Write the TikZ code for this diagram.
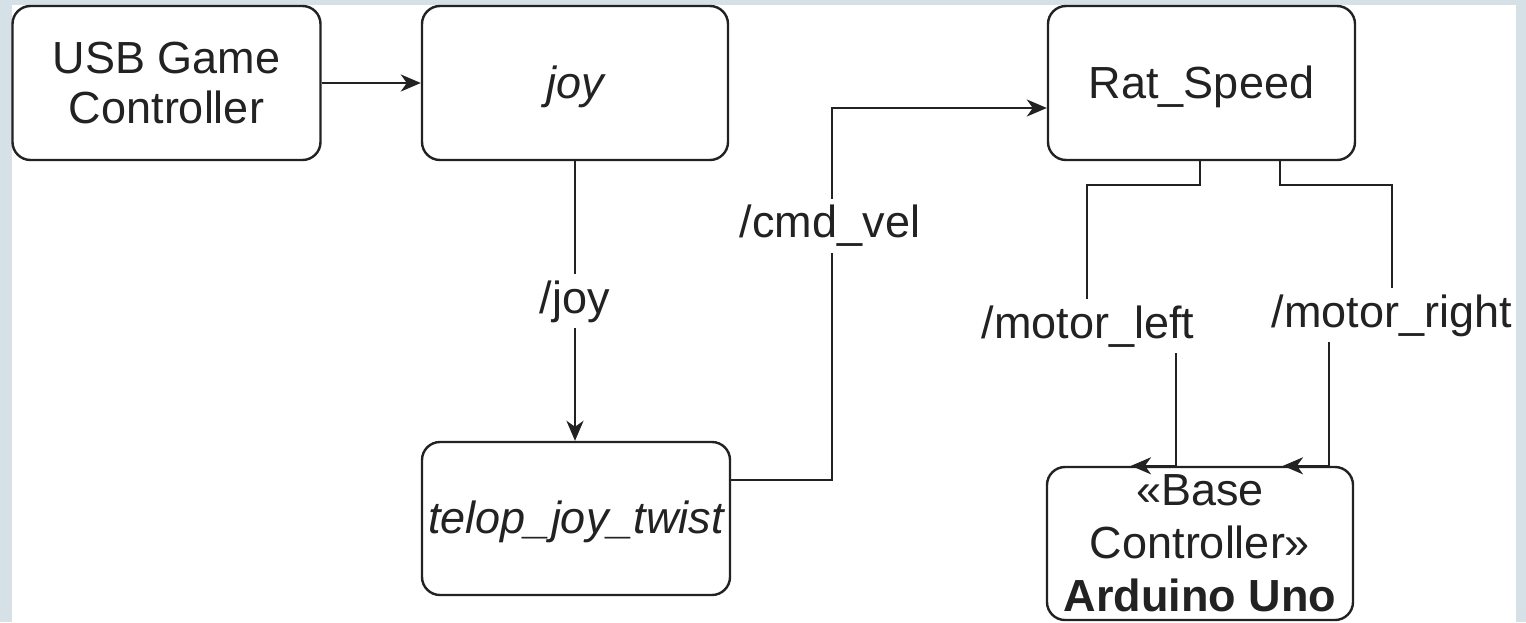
\documentclass[tikz,border=0pt]{standalone}
\usepackage{fontspec}
\setmainfont{Liberation Sans}
\usetikzlibrary{arrows.meta}
\definecolor{frame}{HTML}{D5E1E7}
\definecolor{ink}{HTML}{222222}
\begin{document}
\begin{tikzpicture}[x=1pt,y=-1pt,
  proc/.style={draw=ink, line width=2.4pt, rounded corners=18pt, fill=white,
    inner sep=0pt, align=center, text=ink, font=\fontsize{45}{53}\selectfont},
  oneline/.style={text height=33pt, text depth=3pt},
  topic/.style={fill=white, inner xsep=3pt, inner ysep=5pt, text height=34pt,
    text depth=10pt, text=ink, font=\fontsize{45}{53}\selectfont},
  link/.style={draw=ink, line width=2.4pt, -{Stealth[length=20pt,width=17pt,inset=6pt]}},
]
% page frame
\fill[frame] (0,0) rectangle (1526,622);
\fill[white] (12,5) rectangle (1516,622);
\useasboundingbox (0,0) rectangle (1526,622);

% ROS nodes and hardware
\node[proc, minimum width=308pt, minimum height=154pt,
  font=\fontsize{45}{50}\selectfont] (usb) at (166.5,83) {USB Game\\Controller};
\node[proc, oneline, minimum width=306pt, minimum height=154pt] (joy) at (575,83) {\itshape joy};
\node[proc, oneline, minimum width=308pt, minimum height=153pt] (telop) at (576,518.5) {\itshape telop\_joy\_twist};
\node[proc, oneline, minimum width=307pt, minimum height=154pt] (rat) at (1201.5,83) {Rat\_Speed};
\node[proc, minimum width=306pt, minimum height=153pt] (base) at (1200,543.5)
  {«Base\\Controller»\\\textbf{Arduino Uno}};

% route points
\coordinate (cv1) at (832,480);
\coordinate (cv2) at (832,108);
\coordinate (mlA) at (1200,185);
\coordinate (mlB) at (1087,185);
\coordinate (mlC) at (1087,326);
\coordinate (mlD) at (1176,326);
\coordinate (mlT) at (1131,467);
\coordinate (mrA) at (1280,185);
\coordinate (mrB) at (1392,185);
\coordinate (mrC) at (1392,315);
\coordinate (mrD) at (1329,315);
\coordinate (mrT) at (1283,467);

% topics
\draw[link] (usb.east) -- (joy.west);
\draw[link] (joy.south) -- (joy.south |- telop.north)
  node[topic, midway] {/joy};
\draw[link] (telop.east |- cv1) -- (cv1) -- (cv2) -- (rat.west |- cv2);
\draw[link] (rat.south -| mlA) -- (mlA) -- (mlB) -- (mlC) -- (mlD)
  -- (base.north -| mlD) -- (base.north -| mlT);
\draw[link] (rat.south -| mrA) -- (mrA) -- (mrB) -- (mrC) -- (mrD)
  -- (base.north -| mrD) -- (base.north -| mrT);

% topic labels over the routes
\node[topic] (lcmd) at (830,225.5) {/cmd\_vel};
\node[topic] (lml) at (1088,326) {/motor\_left};
\node[topic] (lmr) at (1392,315) {/motor\_right};
\end{tikzpicture}
\end{document}
